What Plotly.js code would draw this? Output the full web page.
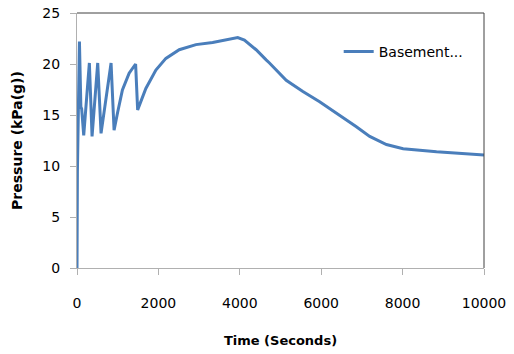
<!DOCTYPE html>
<html>
<head>
<meta charset="utf-8">
<script src="https://cdn.plot.ly/plotly-3.0.1.min.js"></script>
<style>html,body{margin:0;padding:0;background:#fff;}#chart{width:514px;height:354px;}</style>
</head>
<body>
<div id="chart"></div>
<script>
// Data
const seriesName = "Basement...";
const timeSec = [0, 10, 60, 95, 115, 165, 304, 370, 509, 591, 837, 911, 1000, 1116, 1281, 1404, 1440, 1490, 1692, 1938, 2184, 2512, 2923, 3333, 3580, 3744, 3949, 4113, 4401, 4647, 4729, 5140, 5550, 5961, 6372, 6864, 7192, 7380, 7603, 8013, 8834, 10000];
const pressure = [0, 9.5, 22.2, 15.8, 15.6, 13.0, 20.1, 12.9, 20.1, 13.2, 20.1, 13.5, 15.3, 17.45, 19.1, 19.8, 20.0, 15.5, 17.6, 19.4, 20.55, 21.4, 21.9, 22.1, 22.3, 22.5, 22.6, 22.35, 21.4, 20.4, 20.1, 18.4, 17.3, 16.3, 15.2, 13.85, 12.9, 12.55, 12.1, 11.7, 11.4, 11.08];
const xTicks = [0, 2000, 4000, 6000, 8000, 10000];
const yTicks = [0, 5, 10, 15, 20, 25];

const font = "DejaVu Sans, Arial, sans-serif";
const trace = {
  x: timeSec, y: pressure, type: "scatter", mode: "lines", name: seriesName,
  line: {color: "#4a7ebb", width: 3}
};
const layout = {
  width: 514, height: 354,
  margin: {l: 77, r: 30, t: 13, b: 86},
  paper_bgcolor: "#fff", plot_bgcolor: "#fff",
  font: {family: font, size: 14, color: "#000"},
  showlegend: true,
  legend: {x: 0.643, y: 0.91, xanchor: "left", yanchor: "top", bgcolor: "rgba(0,0,0,0)",
           font: {family: font, size: 14, color: "#000"}},
  xaxis: {
    range: [0, 10000], tickvals: xTicks, ticktext: xTicks.map(String),
    showgrid: false, zeroline: false, showline: true, linecolor: "#b0b0b0", linewidth: 1,
    ticks: "outside", ticklen: 6, tickcolor: "#b0b0b0", ticklabelstandoff: 16,
    tickfont: {family: font, size: 14, color: "#000"},
    title: {text: "Time (Seconds)", font: {family: font, size: 13, color: "#000", weight: "bold"}, standoff: 26}
  },
  yaxis: {
    range: [0, 25], tickvals: yTicks, ticktext: yTicks.map(String),
    showgrid: false, zeroline: false, showline: true, linecolor: "#b0b0b0", linewidth: 1,
    ticks: "outside", ticklen: 6, tickcolor: "#b0b0b0", ticklabelstandoff: 7,
    tickfont: {family: font, size: 14, color: "#000"},
    title: {text: "Pressure (kPa(g))", font: {family: font, size: 14, color: "#000", weight: "bold"}, standoff: 16}
  },
  shapes: [
    {type: "line", xref: "paper", yref: "paper", x0: 0, x1: 1, y0: 1, y1: 1, line: {color: "#404040", width: 1}},
    {type: "line", xref: "paper", yref: "paper", x0: 1, x1: 1, y0: 0, y1: 1, line: {color: "#404040", width: 1}}
  ]
};
Plotly.newPlot("chart", [trace], layout, {displayModeBar: false, staticPlot: true});
</script>
</body>
</html>
